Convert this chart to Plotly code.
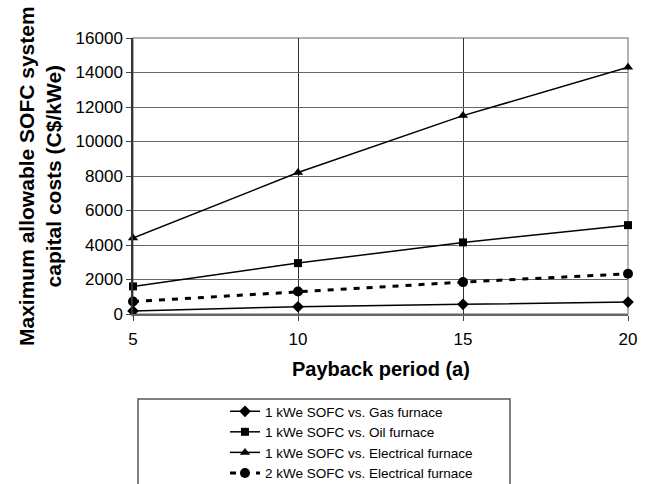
import plotly.graph_objects as go

years = [5, 10, 15, 20]
gas_1kw = [180, 420, 560, 690]
oil_1kw = [1600, 2950, 4150, 5150]
elec_1kw = [4400, 8200, 11500, 14300]
elec_2kw = [720, 1300, 1850, 2330]

y_ticks = [0, 2000, 4000, 6000, 8000, 10000, 12000, 14000, 16000]
x_ticks = [5, 10, 15, 20]

FONT = "Liberation Sans, Arial, sans-serif"
W, H = 653, 484
L, R, T, B = 133, 25, 38, 170
PW = W - L - R
PH = H - T - B

fig = go.Figure()
fig.add_trace(go.Scatter(x=years, y=gas_1kw, mode="lines+markers",
                         name="1 kWe SOFC vs. Gas furnace", cliponaxis=False,
                         line=dict(color="black", width=1.5),
                         marker=dict(symbol="diamond", size=9, color="black")))
fig.add_trace(go.Scatter(x=years, y=oil_1kw, mode="lines+markers",
                         name="1 kWe SOFC vs. Oil furnace", cliponaxis=False,
                         line=dict(color="black", width=1.5),
                         marker=dict(symbol="square", size=8, color="black")))
fig.add_trace(go.Scatter(x=years, y=elec_1kw, mode="lines+markers",
                         name="1 kWe SOFC vs. Electrical furnace", cliponaxis=False,
                         line=dict(color="black", width=1.5),
                         marker=dict(symbol="triangle-up", size=9, color="black")))
fig.add_trace(go.Scatter(x=years, y=elec_2kw, mode="lines+markers",
                         name="2 kWe SOFC vs. Electrical furnace", cliponaxis=False,
                         line=dict(color="black", width=3, dash="6px,7px"),
                         marker=dict(symbol="circle", size=10, color="black")))

def px_x(p):
    return (p - L) / PW

def px_y(p):
    return (H - B - p) / PH

fig.update_layout(
    width=W, height=H,
    margin=dict(l=L, r=R, t=T, b=B, autoexpand=False),
    paper_bgcolor="white", plot_bgcolor="white",
    font=dict(family=FONT, color="black", size=17),
    showlegend=True,
    legend=dict(x=px_x(225), y=px_y(396), xanchor="left", yanchor="top",
                font=dict(family=FONT, size=13.5, color="black"),
                bgcolor="rgba(0,0,0,0)", borderwidth=0),
    xaxis=dict(range=[5, 20], tickvals=x_ticks, ticktext=[str(v) for v in x_ticks],
               showgrid=True, gridcolor="#333", gridwidth=1.2,
               showline=True, linecolor="#666", linewidth=1.5,
               ticks="outside", ticklen=5, tickcolor="#444",
               tickfont=dict(size=17), ticklabelstandoff=4, zeroline=False),
    yaxis=dict(range=[0, 16000], tickvals=y_ticks, ticktext=[str(v) for v in y_ticks],
               showgrid=True, gridcolor="#666", gridwidth=1.2,
               showline=True, linecolor="#333", linewidth=1.5,
               ticks="outside", ticklen=5, tickcolor="#444",
               tickfont=dict(size=17), zeroline=False),
)

# plot border (top/right gray)
fig.add_shape(type="rect", xref="paper", yref="paper", x0=0, x1=1, y0=0, y1=1,
              line=dict(color="#999", width=1.5), layer="below")
# legend box
fig.add_shape(type="rect", xref="paper", yref="paper",
              x0=px_x(138), x1=px_x(510), y0=px_y(399), y1=px_y(520),
              line=dict(color="#555", width=1.5))

fig.add_annotation(text="<b>Payback period (a)</b>", xref="paper", yref="paper",
                   x=0.5, y=px_y(369), xanchor="center", yanchor="middle",
                   showarrow=False, font=dict(family=FONT, size=20))
fig.add_annotation(text="<b>Maximum allowable SOFC system<br>capital costs (C$/kWe)</b>",
                   xref="paper", yref="paper", x=px_x(40), y=px_y(176),
                   xanchor="center", yanchor="middle", textangle=-90,
                   showarrow=False, font=dict(family=FONT, size=21))

fig.write_html("out.html")
